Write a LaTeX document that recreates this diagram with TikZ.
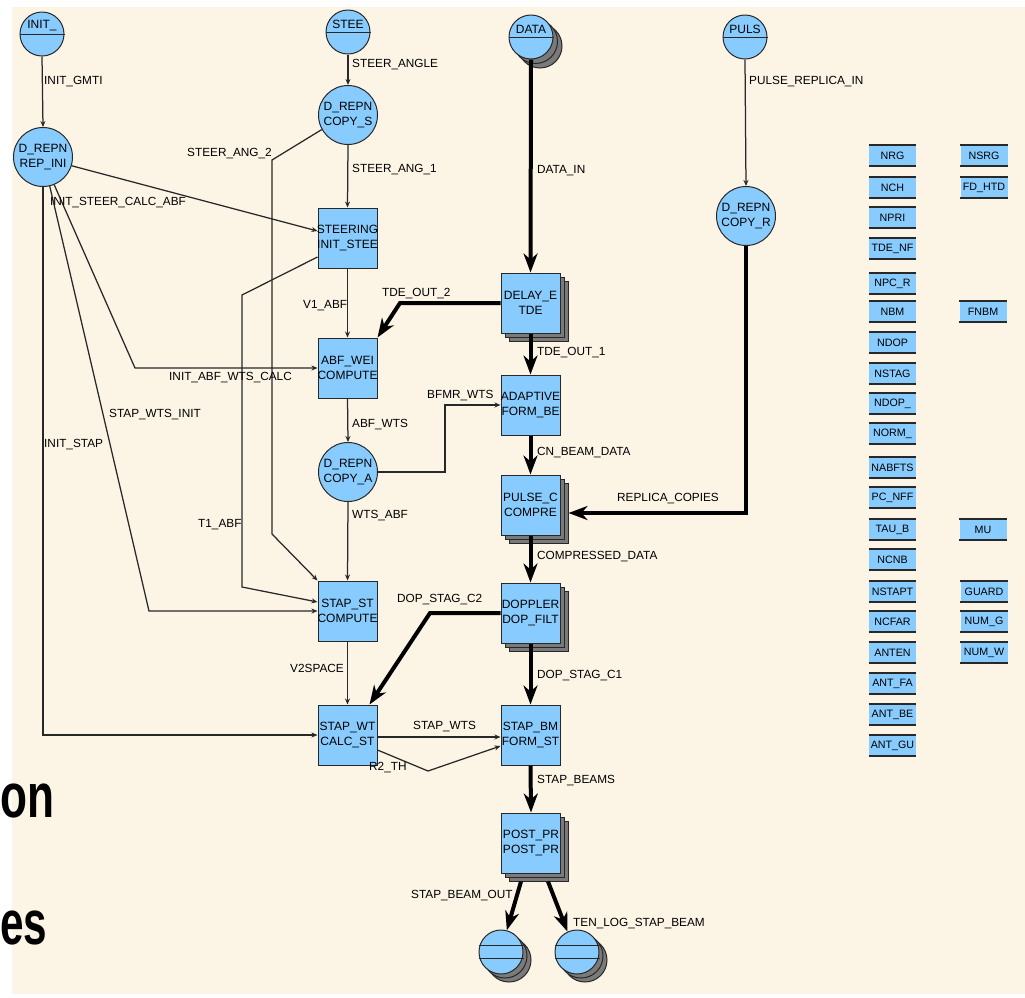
\documentclass[tikz,border=0pt]{standalone}
\usepackage{fontspec}
\setmainfont{Liberation Sans}
\usepackage{graphicx}
\usetikzlibrary{arrows.meta,calc}
\definecolor{cream}{RGB}{252,244,229}
\definecolor{nodeblue}{RGB}{136,204,255}
\definecolor{edgedark}{RGB}{40,40,40}
\definecolor{shadowgray}{RGB}{122,122,122}
\tikzset{
  proc/.style={rectangle, fill=nodeblue, draw=edgedark, line width=1pt, minimum width=59pt, minimum height=60pt, inner sep=0pt},
  procsh/.style={rectangle, fill=shadowgray, draw=edgedark, line width=1pt, minimum width=59pt, minimum height=60pt, inner sep=0pt},
  repn/.style={circle, fill=nodeblue, draw=edgedark, line width=1pt, minimum size=59pt, inner sep=0pt},
  srcc/.style={circle, fill=nodeblue, draw=edgedark, line width=1pt, minimum size=44pt, inner sep=0pt},
  srcsh/.style={circle, fill=shadowgray, draw=edgedark, line width=1pt, minimum size=44pt, inner sep=0pt},
  ntext/.style={inner sep=0pt, align=center, font=\fontsize{12}{15}\selectfont, text=black},
  lbl/.style={anchor=west, inner sep=0pt, font=\fontsize{11.8}{14}\selectfont, text=black},
  param/.style={rectangle, fill=nodeblue, minimum width=47pt, minimum height=21pt, inner sep=0pt, font=\fontsize{10.7}{12}\selectfont},
  thinc/.style={draw=edgedark, line width=1.25pt, -{Stealth[length=6pt,width=5pt]}},
  thickc/.style={draw=black, line width=4pt, -{Stealth[length=19pt,width=14pt,inset=6pt]}},
  slidetext/.style={anchor=base west, inner sep=0pt},
}
\newcommand\procnode[5]{%
  \node[proc] (#1) at (#2,#3) {};
  \begin{scope}
    \clip (#1.south west) rectangle (#1.north east);
    \node[ntext] (#1-t) at (#1.center) {#4\\#5};
  \end{scope}}
\newcommand\procstack[3]{%
  \node[procsh] (#1-s2) at (#2+8,#3+8) {};
  \node[procsh] (#1-s1) at (#2+4,#3+4) {};}
\newcommand\paramnode[4]{%
  \node[param] (#1) at (#2,#3) {#4};
  \draw[edgedark, line width=1.6pt] (#1.north west) -- (#1.north east) (#1.south west) -- (#1.south east);}
\begin{document}
\begin{tikzpicture}[x=1pt,y=-1pt]
\useasboundingbox (0,0) rectangle (1025,997);
\fill[white] (0,0) rectangle (1025,997);
\fill[cream] (12,7) rectangle (1025,994);

% ---- source circles
\node[srcc] (init) at (42,34) {};
\draw[edgedark, line width=1pt] (init.west) -- (init.east);
\node[ntext] (init-t) at (42,26) {INIT\_};
\node[srcc] (stee) at (348,32) {};
\draw[edgedark, line width=1pt] (stee.west) -- (stee.east);
\node[ntext] (stee-t) at (348,24) {STEE};
\node[srcsh] (data-s2) at (540,46) {};
\node[srcsh] (data-s1) at (535.5,41.5) {};
\node[srcc] (data) at (531,37) {};
\draw[edgedark, line width=1pt] (data.west) -- (data.east);
\node[ntext] (data-t) at (531,29) {DATA};
\node[srcc] (puls) at (745,37) {};
\draw[edgedark, line width=1pt] (puls.west) -- (puls.east);
\node[ntext] (puls-t) at (745,29) {PULS};

% ---- D_REPN circles
\node[repn] (repini) at (43,157) {};
\node[ntext] (repini-t) at (43,157) {D\_REPN\\REP\_INI};
\node[repn] (copys) at (348,115) {};
\node[ntext] (copys-t) at (348,115) {D\_REPN\\COPY\_S};
\node[repn] (copya) at (348,472) {};
\node[ntext] (copya-t) at (348,472) {D\_REPN\\COPY\_A};
\node[repn] (copyr) at (746,216) {};
\node[ntext] (copyr-t) at (746,216) {D\_REPN\\COPY\_R};

% ---- process boxes
\procnode{steer}{347.5}{238}{STEERING}{INIT\_STEE}
\procnode{abfwei}{347.5}{368}{ABF\_WEI}{COMPUTE}
\procstack{delay}{530.5}{303}
\procnode{delay}{530.5}{303}{DELAY\_E}{TDE}
\procnode{adaptive}{530.5}{405}{ADAPTIVE}{FORM\_BE}
\procstack{pulsec}{530.5}{505}
\procnode{pulsec}{530.5}{505}{PULSE\_C}{COMPRE}
\procstack{doppler}{530.5}{613}
\procnode{doppler}{530.5}{613}{DOPPLER}{DOP\_FILT}
\procnode{stapst}{347.5}{611}{STAP\_ST}{COMPUTE}
\procnode{stapwt}{347.5}{735}{STAP\_WT}{CALC\_ST}
\procnode{stapbm}{530.5}{735}{STAP\_BM}{FORM\_ST}
\procstack{postpr}{531}{843}
\procnode{postpr}{531}{843}{POST\_PR}{POST\_PR}

% ---- sinks
\node[srcsh] (sink1-s2) at (509,960) {};
\node[srcsh] (sink1-s1) at (505,956) {};
\node[srcc] (sink1) at (501,952) {};
\draw[edgedark, line width=1pt] ([yshift=6.5]sink1.west) -- ([yshift=6.5]sink1.east) ([yshift=-6.5]sink1.west) -- ([yshift=-6.5]sink1.east);
\node[srcsh] (sink2-s2) at (585,960) {};
\node[srcsh] (sink2-s1) at (581,956) {};
\node[srcc] (sink2) at (577,952) {};
\draw[edgedark, line width=1pt] ([yshift=6.5]sink2.west) -- ([yshift=6.5]sink2.east) ([yshift=-6.5]sink2.west) -- ([yshift=-6.5]sink2.east);

% ---- thin connectors
\draw[thinc] (init.south) -- (repini.north);
\draw[thinc] (stee.south) -- (copys.north);
\draw[thinc] (copys.south) -- (steer.north);
\draw[thinc] (copys.209) -- (272,160) -- (272,534) -- (stapst.north west);
\draw[thinc] (repini.-17) -- ([yshift=7]steer.west);
\draw[thinc] (repini.-68) -- (135,368) -- (abfwei.west);
\draw[thinc] (repini.-77) -- (149,611) -- (stapst.west);
\draw[thinc] (repini.south) |- (stapwt.west);
\draw[thinc] ([yshift=-19]steer.west) -- (242,295) -- (242,587) -- ([yshift=9]stapst.west);
\draw[thinc] (steer.south) -- (abfwei.north);
\draw[thinc] (abfwei.south) -- (copya.north);
\draw[thinc] (copya.east) -- (445,472) -- (445,405) -- (adaptive.west);
\draw[thinc] (copya.south) -- (stapst.north);
\draw[thinc] (stapst.south) -- (stapwt.north);
\draw[thinc] ([yshift=-2]stapwt.east) -- ([yshift=-2]stapbm.west);
\draw[thinc] ([yshift=-15]stapwt.east) -- (428,771) -- ([yshift=-11]stapbm.west);
\draw[thinc] (puls.south) -- (copyr.north);

% ---- thick connectors
\draw[thickc] (data.south) -- (delay.north);
\draw[thickc] (delay.west) -- (400,303) -- (abfwei.north east);
\draw[thickc] (delay.south) -- (adaptive.north);
\draw[thickc] (adaptive.south) -- (pulsec.north);
\draw[thickc] (copyr.south) -- (746,513) -- (pulsec-s2.east);
\draw[thickc] (pulsec.south) -- (doppler.north);
\draw[thickc] (doppler.west) -- (430,613) -- ([xshift=-8]stapwt.north east);
\draw[thickc] (doppler.south) -- (stapbm.north);
\draw[thickc] (stapbm.south) -- (postpr.north);
\draw[thickc] ([xshift=-18]postpr-s2.south) -- (sink1.75);
\draw[thickc] ([xshift=9]postpr-s2.south) -- (sink2.115);

% ---- labels
\node[lbl] (l1) at (44,82) {INIT\_GMTI};
\node[lbl] (l2) at (352,65) {STEER\_ANGLE};
\node[lbl] (l3) at (352,170) {STEER\_ANG\_1};
\node[lbl] (l4) at (187,154) {STEER\_ANG\_2};
\node[lbl] (l5) at (50,203) {INIT\_STEER\_CALC\_ABF};
\node[lbl] (l6) at (537,171) {DATA\_IN};
\node[lbl] (l7) at (749,82) {PULSE\_REPLICA\_IN};
\node[lbl] (l8) at (382,294) {TDE\_OUT\_2};
\node[lbl] (l9) at (303,306) {V1\_ABF};
\node[lbl] (l10) at (537,353) {TDE\_OUT\_1};
\node[lbl] (l11) at (169,378) {INIT\_ABF\_WTS\_CALC};
\node[lbl] (l12) at (427,396) {BFMR\_WTS};
\node[lbl] (l13) at (109,415) {STAP\_WTS\_INIT};
\node[lbl] (l14) at (352,425) {ABF\_WTS};
\node[lbl] (l15) at (44,445) {INIT\_STAP};
\node[lbl] (l16) at (537,453) {CN\_BEAM\_DATA};
\node[lbl] (l17) at (617,499) {REPLICA\_COPIES};
\node[lbl] (l18) at (352,516) {WTS\_ABF};
\node[lbl] (l19) at (198,525) {T1\_ABF};
\node[lbl] (l20) at (537,557) {COMPRESSED\_DATA};
\node[lbl] (l21) at (397,600) {DOP\_STAG\_C2};
\node[lbl] (l22) at (290,668) {V2SPACE};
\node[lbl] (l23) at (537,676) {DOP\_STAG\_C1};
\node[lbl] (l24) at (413,727) {STAP\_WTS};
\node[lbl] (l25) at (369,768) {R2\_TH};
\node[lbl] (l26) at (537,781) {STAP\_BEAMS};
\node[lbl] (l27) at (411,896) {STAP\_BEAM\_OUT};
\node[lbl] (l28) at (573,924) {TEN\_LOG\_STAP\_BEAM};

% ---- parameter boxes
\paramnode{p1}{892.5}{155.5}{NRG}
\paramnode{p2}{892.5}{187.5}{NCH}
\paramnode{p3}{892.5}{217.5}{NPRI}
\paramnode{p4}{892.5}{248.5}{TDE\_NF}
\paramnode{p5}{892.5}{283.5}{NPC\_R}
\paramnode{p6}{892.5}{311.5}{NBM}
\paramnode{p7}{892.5}{342.5}{NDOP}
\paramnode{p8}{892.5}{373.5}{NSTAG}
\paramnode{p9}{892.5}{403.5}{NDOP\_}
\paramnode{p10}{892.5}{433.5}{NORM\_}
\paramnode{p11}{892.5}{467.5}{NABFTS}
\paramnode{p12}{892.5}{497.5}{PC\_NFF}
\paramnode{p13}{892.5}{529.5}{TAU\_B}
\paramnode{p14}{892.5}{559.5}{NCNB}
\paramnode{p15}{892.5}{591.5}{NSTAPT}
\paramnode{p16}{892.5}{621.5}{NCFAR}
\paramnode{p17}{892.5}{652.5}{ANTEN}
\paramnode{p18}{892.5}{683.5}{ANT\_FA}
\paramnode{p19}{892.5}{714.5}{ANT\_BE}
\paramnode{p20}{892.5}{745.5}{ANT\_GU}
\paramnode{q1}{984}{155.5}{NSRG}
\paramnode{q2}{984}{187.5}{FD\_HTD}
\paramnode{q3}{983}{311.5}{FNBM}
\paramnode{q4}{983}{529.5}{MU}
\paramnode{q5}{984}{591.5}{GUARD}
\paramnode{q6}{984}{621.5}{NUM\_G}
\paramnode{q7}{984}{652.5}{NUM\_W}

% ---- slide text behind
\node[slidetext] (bg-on) at (0,817) {\scalebox{0.92}[1.3]{\fontsize{48}{48}\selectfont\bfseries on}};
\node[slidetext] (bg-es) at (0,944) {\scalebox{0.88}[1.3]{\fontsize{48}{48}\selectfont\bfseries es}};
\end{tikzpicture}
\end{document}
